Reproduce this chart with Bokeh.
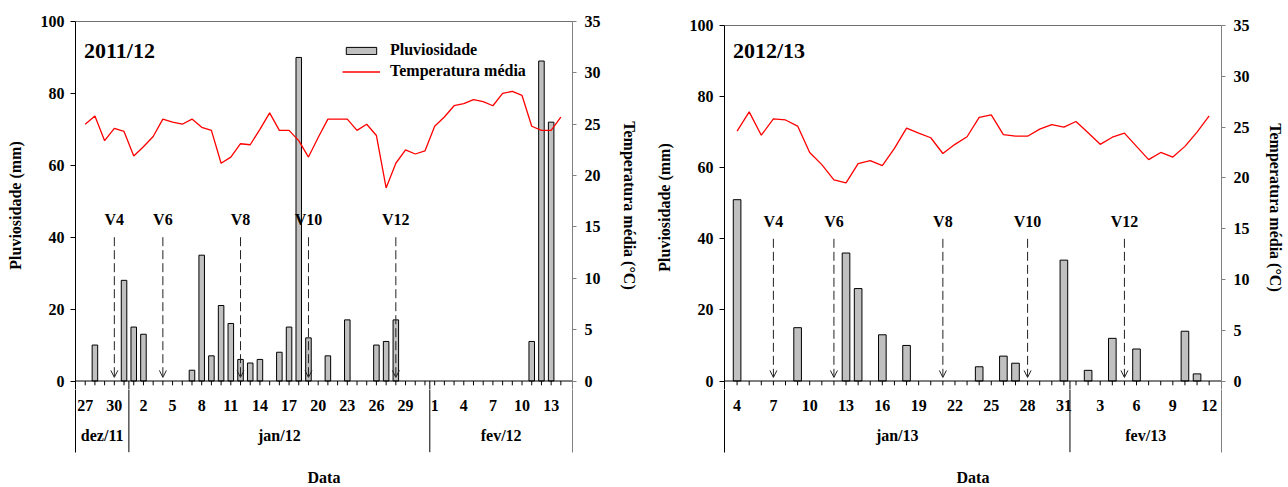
import pandas as pd
from bokeh.plotting import figure
from bokeh.layouts import row, column
from bokeh.models import (Range1d, LinearAxis, FixedTicker, ColumnDataSource, Arrow,
                          OpenHead, Label, Legend, LegendItem)
from bokeh.core.properties import value
from bokeh.embed import file_html
from bokeh.resources import INLINE

FONT = "Liberation Serif"

# ---------------- season 2011/12 ----------------
s1_title = "2011/12"
s1_base = "2011-12-31"
s1_temp_dates = pd.date_range("2011-12-27", "2012-02-14")
s1_temp = [25.0, 25.8, 23.4, 24.6, 24.3,
           21.9, 22.8, 23.8, 25.5, 25.2, 25.0, 25.5, 24.7, 24.4, 21.2, 21.8, 23.1, 23.0,
           24.5, 26.1, 24.4, 24.4, 23.4, 21.8, 23.7, 25.5, 25.5, 25.5, 24.4, 25.0, 23.9,
           18.8, 21.2, 22.5, 22.1, 22.4,
           24.8, 25.7, 26.8, 27.0, 27.4, 27.2, 26.8, 28.0, 28.2, 27.8, 24.8, 24.4, 24.4, 25.7]
s1_rain_dates = ["2011-12-28", "2011-12-31", "2012-01-01", "2012-01-02", "2012-01-07",
                 "2012-01-08", "2012-01-09", "2012-01-10", "2012-01-11", "2012-01-12",
                 "2012-01-13", "2012-01-14", "2012-01-16", "2012-01-17", "2012-01-18",
                 "2012-01-19", "2012-01-21", "2012-01-23", "2012-01-26", "2012-01-27",
                 "2012-01-28", "2012-02-11", "2012-02-12", "2012-02-13"]
s1_rain = [10, 28, 15, 13, 3, 35, 7, 21, 16, 6, 5, 6, 8, 15, 90, 12, 7, 17, 10, 11, 17, 11, 89, 72]
s1_stage_labels = ["V4", "V6", "V8", "V10", "V12"]
s1_stage_dates = ["2011-12-30", "2012-01-04", "2012-01-12", "2012-01-19", "2012-01-28"]
s1_tick_dates = ["2011-12-27", "2011-12-30", "2012-01-02", "2012-01-05", "2012-01-08",
                 "2012-01-11", "2012-01-14", "2012-01-17", "2012-01-20", "2012-01-23",
                 "2012-01-26", "2012-01-29", "2012-02-01", "2012-02-04", "2012-02-07",
                 "2012-02-10", "2012-02-13"]
s1_tick_labels = ["27", "30", "2", "5", "8", "11", "14", "17", "20", "23", "26", "29",
                  "1", "4", "7", "10", "13"]
s1_months = ["dez/11", "jan/12", "fev/12"]
s1_month_ends = ["2011-12-31", "2012-01-31"]

# ---------------- season 2012/13 ----------------
s2_title = "2012/13"
s2_base = "2012-12-31"
s2_temp_dates = pd.date_range("2013-01-04", "2013-02-12")
s2_temp = [24.6, 26.5, 24.2, 25.8, 25.7, 25.1, 22.5, 21.3, 19.8, 19.5, 21.4, 21.7, 21.2,
           22.9, 24.9, 24.4, 23.95, 22.4, 23.3, 24.05, 25.95, 26.2, 24.25, 24.1, 24.1,
           24.8, 25.25, 25.0,
           25.55, 24.45, 23.3, 24.0, 24.4, 23.1, 21.8, 22.5, 22.05, 23.1, 24.5, 26.1]
s2_rain_dates = ["2013-01-04", "2013-01-09", "2013-01-13", "2013-01-14", "2013-01-16",
                 "2013-01-18", "2013-01-24", "2013-01-26", "2013-01-27", "2013-01-31",
                 "2013-02-02", "2013-02-04", "2013-02-06", "2013-02-10", "2013-02-11"]
s2_rain = [51, 15, 36, 26, 13, 10, 4, 7, 5, 34, 3, 12, 9, 14, 2]
s2_stage_labels = ["V4", "V6", "V8", "V10", "V12"]
s2_stage_dates = ["2013-01-07", "2013-01-12", "2013-01-21", "2013-01-28", "2013-02-05"]
s2_tick_dates = ["2013-01-04", "2013-01-07", "2013-01-10", "2013-01-13", "2013-01-16",
                 "2013-01-19", "2013-01-22", "2013-01-25", "2013-01-28", "2013-01-31",
                 "2013-02-03", "2013-02-06", "2013-02-09", "2013-02-12"]
s2_tick_labels = ["4", "7", "10", "13", "16", "19", "22", "25", "28", "31",
                  "3", "6", "9", "12"]
s2_months = ["jan/13", "fev/13"]
s2_month_ends = ["2013-01-31"]

rain_ticks = [0, 20, 40, 60, 80, 100]
temp_ticks = [0, 5, 10, 15, 20, 25, 30, 35]

ZERO = 380.5      # canvas y of the zero line
TOP_H = 389       # height of the chart panel (frame runs a little below zero)
BOT_H = 487 - TOP_H


def days(dates, base):
    b = pd.Timestamp(base)
    return [(pd.Timestamp(d) - b).days for d in dates]


def txt(size):
    return dict(text_font=value(FONT), text_font_style="bold", text_font_size=size,
                text_color="black")


def axis_style(color, tick_out, standoff):
    return dict(axis_line_color=color, major_tick_line_color=color,
                major_tick_out=tick_out, major_tick_in=0, minor_tick_line_color=None,
                major_label_standoff=standoff, major_label_text_font=FONT,
                major_label_text_font_style="bold", major_label_text_font_size="16px",
                major_label_text_color="black", axis_label_text_font=FONT,
                axis_label_text_font_style="bold", axis_label_text_font_size="16px",
                axis_label_text_color="black")


def make_chart(title, base, temp_dates, temps, rain_dates, rain, stage_dates, stage_labels,
               tick_dates, tick_labels, months, month_ends, x_lo, x_hi, width,
               b_left, b_right, top_border, bar_w, right_label_standoff, legend):
    xr = Range1d(x_lo, x_hi)
    ppm = (ZERO - top_border) / 100.0          # pixels per mm
    v_lo = 100 - (TOP_H - top_border) / ppm    # value at the frame bottom

    tx = days(temp_dates, base)
    rx = days(rain_dates, base)
    sx = days(stage_dates, base)
    lx = days(tick_dates, base)
    bounds_in = [d + 0.5 for d in days(month_ends, base)]
    edges = [x_lo] + bounds_in + [x_hi]
    mx = [(a + b) / 2 for a, b in zip(edges[:-1], edges[1:])]

    p = figure(width=width, height=TOP_H, output_backend="svg",
               toolbar_location=None, x_range=xr, y_range=Range1d(v_lo, 100),
               x_axis_type=None, y_axis_type=None,
               min_border_left=b_left, min_border_right=b_right,
               min_border_top=top_border, min_border_bottom=0)
    p.outline_line_color = None
    p.extra_y_ranges = {"temp": Range1d(v_lo * 0.35, 35)}

    ax = LinearAxis(ticker=FixedTicker(ticks=rain_ticks), axis_label="Pluviosidade (mm)",
                    axis_label_standoff=14, **axis_style("black", 5, 6))
    p.add_layout(ax, "left")
    axr = LinearAxis(y_range_name="temp", ticker=FixedTicker(ticks=temp_ticks),
                     axis_label="Temperatura média (°C)",
                     axis_label_standoff=right_label_standoff,
                     **axis_style("#808080", 4, 8))
    p.add_layout(axr, "right")
    axt = LinearAxis(ticker=FixedTicker(ticks=[]), axis_line_color="#707070",
                     major_tick_line_color=None, minor_tick_line_color=None)
    p.add_layout(axt, "above")

    bars = p.vbar(x=rx, top=rain, width=bar_w, bottom=0, fill_color="#C0C0C0",
                  line_color="black", line_width=1)
    ln = p.line(tx, temps, y_range_name="temp", line_color="red", line_width=1.3)

    # date axis line, day ticks and month separators
    p.segment(x0=[x_lo], y0=[0], x1=[x_hi], y1=[0], line_color="black", line_width=1)
    p.segment(x0=tx, y0=[0] * len(tx), x1=tx, y1=[-4.3 / ppm] * len(tx),
              line_color="black", line_width=1)
    p.segment(x0=bounds_in, y0=[0] * len(bounds_in), x1=bounds_in,
              y1=[v_lo] * len(bounds_in), line_color="black", line_width=1)

    # growth stages
    src = ColumnDataSource(dict(x=sx, ys=[40] * len(sx), ye=[1.0] * len(sx)))
    p.add_layout(Arrow(end=OpenHead(size=7, line_color="#222222", line_width=1),
                       x_start="x", y_start="ys", x_end="x", y_end="ye", source=src,
                       line_color="#222222", line_width=1, line_dash="9 4"))
    p.text(x=sx, y=[45] * len(sx), text=stage_labels, text_align="center",
           text_baseline="middle", **txt("16px"))

    p.add_layout(Label(x=8.5, x_units="screen", y=100 - (50 - top_border) / ppm,
                       text=title, text_align="left", text_baseline="middle",
                       text_font=FONT, text_font_style="bold", text_font_size="22px",
                       text_color="black"))

    if legend:
        lg = Legend(items=[LegendItem(label="Pluviosidade", renderers=[bars]),
                           LegendItem(label="Temperatura média", renderers=[ln])],
                    location=(267, TOP_H - 80), glyph_width=38, glyph_height=9,
                    label_height=18, spacing=3, padding=0, margin=0, label_standoff=10,
                    border_line_color=None, background_fill_alpha=0,
                    label_text_font=FONT, label_text_font_style="bold",
                    label_text_font_size="16px", label_text_color="black")
        p.add_layout(lg, "center")

    # ---- lower panel: date labels (units: pixels below the zero line) ----
    top_y = -(TOP_H - ZERO)
    sep_lo = -71.2
    q = figure(width=width, height=BOT_H, output_backend="svg", toolbar_location=None,
               x_range=xr, y_range=Range1d(top_y - BOT_H, top_y),
               x_axis_type=None, y_axis_type=None,
               min_border_left=b_left, min_border_right=b_right,
               min_border_top=0, min_border_bottom=0)
    q.outline_line_color = None
    q.add_layout(LinearAxis(ticker=FixedTicker(ticks=[]), bounds=(sep_lo, top_y + 1),
                            axis_line_color="black", major_tick_line_color=None),
                 "left")
    q.add_layout(LinearAxis(ticker=FixedTicker(ticks=[]), bounds=(sep_lo, top_y + 1),
                            axis_line_color="#808080", major_tick_line_color=None),
                 "right")
    q.text(x=lx, y=[-24.5] * len(lx), text=tick_labels, text_align="center",
           text_baseline="middle", **txt("16px"))
    q.segment(x0=bounds_in, y0=[top_y + 1] * len(bounds_in), x1=bounds_in,
              y1=[sep_lo] * len(bounds_in), line_color="black", line_width=1)
    q.text(x=mx, y=[-54.5] * len(mx), text=months, text_align="center",
           text_baseline="middle", **txt("16px"))
    q.text(x=[(x_lo + x_hi) / 2], y=[-96.5], text=["Data"], text_align="center",
           text_baseline="middle", **txt("16px"))
    return column(p, q)


c1 = make_chart(s1_title, s1_base, s1_temp_dates, s1_temp, s1_rain_dates, s1_rain,
                s1_stage_dates, s1_stage_labels, s1_tick_dates, s1_tick_labels,
                s1_months, s1_month_ends, -5.0, 46.2, 648, 75, 76, 21, 0.57, 17, True)
c2 = make_chart(s2_title, s2_base, s2_temp_dates, s2_temp, s2_rain_dates, s2_rain,
                s2_stage_dates, s2_stage_labels, s2_tick_dates, s2_tick_labels,
                s2_months, s2_month_ends, 2.96, 44.02, 640, 76, 67, 25, 0.63, 14, False)

layout = row(c1, c2)
open("out.html", "w").write(file_html(layout, INLINE))
